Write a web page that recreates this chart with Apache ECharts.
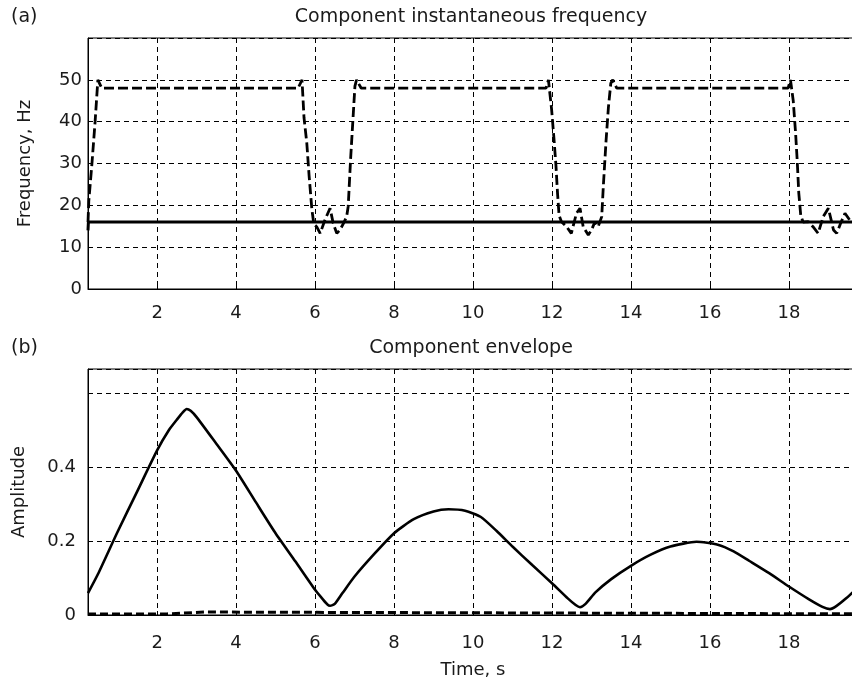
<!DOCTYPE html>
<html>
<head>
<meta charset="utf-8">
<script src="https://cdn.jsdelivr.net/npm/echarts@6/dist/echarts.min.js"></script>
<style>html,body{margin:0;padding:0;background:#fff;}#c{width:852px;height:684px;}</style>
</head>
<body>
<div id="c"></div>
<script>
// ---- data ----
const xTicks = [2, 4, 6, 8, 10, 12, 14, 16, 18];
const freqTicksLabels = [0, 10, 20, 30, 40, 50];
const ampTickLabels = [0, 0.2, 0.4];

// (a) solid component frequency
const solidFreqTime = [0.25, 0.26, 19.75];
const solidFreqVal  = [14, 16, 16];

// (a) dashed component frequency
const dashFreqTime = [0.25, 0.27, 0.35, 0.43, 0.50, 0.60,
  5.57, 5.67, 5.72, 5.79, 5.85, 5.92, 5.97, 6.04, 6.13, 6.25, 6.38, 6.46, 6.55, 6.63, 6.72, 6.80,
  6.84, 6.90, 6.95, 7.01, 7.05, 7.17,
  11.85, 11.91, 11.99, 12.05, 12.10, 12.14, 12.18, 12.24, 12.37, 12.49, 12.62, 12.71, 12.79, 12.92, 13.00, 13.09, 13.17, 13.26,
  13.30, 13.37, 13.43, 13.49, 13.54, 13.64,
  17.98, 18.04, 18.11, 18.17, 18.21, 18.25, 18.30, 18.36, 18.49, 18.61, 18.74, 18.87, 19.00, 19.13, 19.21, 19.31, 19.42, 19.54, 19.75];
const dashFreqVal = [16, 21, 30, 40, 50, 48,
  48, 50, 41, 35, 27, 19, 15.5, 14.9, 13.3, 16.5, 19.3, 15.7, 13.3, 14.1, 15.7, 17.3,
  19.8, 31, 39, 48.5, 50, 48,
  48, 50, 43, 36, 29.6, 23, 17.6, 16.1, 14.9, 13.3, 18.1, 19.3, 14.9, 12.9, 14.1, 16.1, 14.9, 17.3,
  24.5, 35.5, 43.5, 49.2, 50, 48,
  48, 50, 45, 37.2, 30.8, 23, 17.6, 16, 16.1, 14.9, 13.3, 17.3, 19.3, 14.1, 13.3, 15.7, 18.1, 16.5, 16];

// (b) envelopes
const envTime = [0.25, 0.5, 1.0, 1.5, 2.0, 2.3, 2.5, 2.65, 2.75, 2.85, 3.0, 3.5, 4.0, 4.5, 5.0, 5.5, 6.0, 6.2, 6.3, 6.38, 6.5, 6.7,
  7.0, 7.5, 8.0, 8.5, 9.0, 9.38, 9.8, 10.2, 10.6, 11.0, 11.5, 12.0, 12.4, 12.6, 12.71, 12.85, 13.1, 13.5, 14.0, 14.5, 15.0,
  15.66, 16.2, 16.6, 17.0, 17.5, 18.0, 18.5, 18.85, 19.04, 19.2, 19.45, 19.75];
const envVal = [0.059, 0.11, 0.225, 0.335, 0.445, 0.5, 0.528, 0.548, 0.557, 0.552, 0.535, 0.463, 0.39, 0.305, 0.221, 0.145, 0.068, 0.042, 0.03, 0.025, 0.03, 0.06,
  0.104, 0.165, 0.221, 0.259, 0.28, 0.286, 0.282, 0.265, 0.227, 0.185, 0.135, 0.086, 0.045, 0.027, 0.021, 0.03, 0.061, 0.097, 0.133, 0.163, 0.185,
  0.198, 0.19, 0.172, 0.146, 0.113, 0.077, 0.043, 0.022, 0.016, 0.024, 0.045, 0.075];
const env2Time = [0.25, 2.25, 2.3, 3.2, 3.25, 19.75];
const env2Val  = [0.003, 0.003, 0.008, 0.008, 0.003, 0.003];

// ---- chart ----
const zip = (a, b) => a.map((v, i) => [v, b[i]]);
const FONT = 'DejaVu Sans';
const TXT = '#1a1a1a';
const gridDash = { color: '#000', width: 1, type: [5, 4] };

function xAxisCfg(gridIndex, name, margin) {
  return {
    type: 'value', gridIndex, min: 0.25, max: 19.75,
    axisLine: { show: true, lineStyle: { color: '#000', width: 1 } },
    axisTick: { show: true, inside: true, length: 4, customValues: xTicks, lineStyle: { color: '#000' } },
    axisLabel: { customValues: xTicks, color: TXT, fontFamily: FONT, fontSize: 18, margin: margin },
    splitLine: { show: true, lineStyle: gridDash },
    name: name || '', nameLocation: 'middle', nameGap: 46,
    nameTextStyle: { color: TXT, fontFamily: FONT, fontSize: 18 }
  };
}

const titleStyle = { fontFamily: FONT, fontSize: 19, fontWeight: 'normal', color: TXT };

const option = {
  animation: false,
  backgroundColor: '#fff',
  title: [
    { text: '(a)', left: 6, top: 3, textStyle: titleStyle },
    { text: 'Component instantaneous frequency', left: 466, top: 3, textAlign: 'center', textStyle: titleStyle },
    { text: '(b)', left: 6, top: 334, textStyle: titleStyle },
    { text: 'Component envelope', left: 466, top: 334, textAlign: 'center', textStyle: titleStyle }
  ],
  grid: [
    { left: 88, width: 770, top: 38, height: 251, show: true, borderColor: '#000', borderWidth: 1,
      containLabel: false, outerBoundsMode: 'none' },
    { left: 88, width: 770, top: 369, height: 246, show: true, borderColor: '#000', borderWidth: 1,
      containLabel: false, outerBoundsMode: 'none' }
  ],
  xAxis: [xAxisCfg(0, '', 15), xAxisCfg(1, 'Time, s', 19)],
  yAxis: [
    {
      type: 'value', gridIndex: 0, min: 0, max: 60, interval: 10,
      axisLine: { show: true, lineStyle: { color: '#000' } },
      axisTick: { show: true, inside: true, length: 4, lineStyle: { color: '#000' } },
      axisLabel: { color: TXT, fontFamily: FONT, fontSize: 18, margin: 6,
        formatter: v => (freqTicksLabels.indexOf(Math.round(v)) >= 0 && Math.abs(v - Math.round(v)) < 1e-6 ? String(Math.round(v)) : '') },
      splitLine: { show: true, lineStyle: gridDash },
      name: 'Frequency, Hz', nameLocation: 'middle', nameGap: 54,
      nameTextStyle: { color: TXT, fontFamily: FONT, fontSize: 18 }
    },
    {
      type: 'value', gridIndex: 1, min: 0, max: 0.665, interval: 0.2,
      axisLine: { show: true, lineStyle: { color: '#000' } },
      axisTick: { show: true, inside: true, length: 4, lineStyle: { color: '#000' } },
      axisLabel: { color: TXT, fontFamily: FONT, fontSize: 18, margin: 12,
        formatter: v => {
          for (const t of ampTickLabels) if (Math.abs(v - t) < 1e-6) return t === 0 ? '0' : t.toFixed(1);
          return '';
        } },
      splitLine: { show: true, lineStyle: gridDash },
      name: 'Amplitude', nameLocation: 'middle', nameGap: 60,
      nameTextStyle: { color: TXT, fontFamily: FONT, fontSize: 18 }
    }
  ],
  series: [
    { type: 'line', xAxisIndex: 0, yAxisIndex: 0, data: zip(solidFreqTime, solidFreqVal), showSymbol: false,
      lineStyle: { color: '#000', width: 3 }, z: 3 },
    { type: 'line', xAxisIndex: 0, yAxisIndex: 0, data: zip(dashFreqTime, dashFreqVal), showSymbol: false,
      lineStyle: { color: '#000', width: 2.8, type: [10, 4] }, z: 4 },
    { type: 'line', xAxisIndex: 1, yAxisIndex: 1, data: zip(envTime, envVal), showSymbol: false, smooth: 0.2,
      lineStyle: { color: '#000', width: 2.6 }, z: 3 },
    { type: 'line', xAxisIndex: 1, yAxisIndex: 1, data: zip(env2Time, env2Val), showSymbol: false,
      lineStyle: { color: '#000', width: 3, type: [8, 4] }, z: 4 }
  ]
};

const chart = echarts.init(document.getElementById('c'), null, { renderer: 'canvas' });
chart.setOption(option);
</script>
</body>
</html>
